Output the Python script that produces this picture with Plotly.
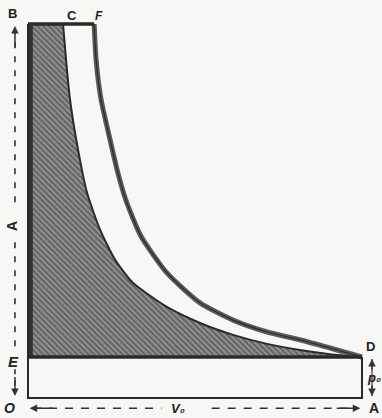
import plotly.graph_objects as go

# ---- data (V in units where OA = V0 = 10, p in units where OE = p0 = 1) ----
V0 = 10.0
p0 = 1.0
p_top = 9.12
V_C = 1.05
V_F = 1.98

inner_V = [1.05, 1.14, 1.26, 1.50, 1.77, 2.16, 2.61, 3.14, 4.16, 5.15, 6.14, 7.16, 8.14, 9.04, 10.0]
inner_p = [9.12, 8.24, 7.27, 6.05, 5.00, 4.10, 3.37, 2.81, 2.22, 1.83, 1.54, 1.32, 1.17, 1.07, 1.00]

outer_V = [1.98, 2.04, 2.19, 2.46, 2.67, 2.93, 3.38, 4.16, 5.15, 6.14, 7.16, 8.14, 9.04, 10.0]
outer_p = [9.12, 8.24, 7.27, 6.29, 5.56, 4.83, 3.95, 3.05, 2.32, 1.90, 1.61, 1.42, 1.22, 1.00]

labels = ["B", "C", "F", "A", "E", "D", "O", "A", "V₀", "p₀"]

fig = go.Figure()

# hatched region B-C-(inner curve)-D-E : base path then inner curve filled to it
fig.add_trace(go.Scatter(x=[0.0, 0.0, V0], y=[p_top, p0, p0], mode="lines",
                         line=dict(color="#2e2e2e", width=0), hoverinfo="skip"))
fig.add_trace(go.Scatter(
    x=inner_V, y=inner_p, mode="lines", fill="tonexty",
    fillcolor="#6e6e6e",
    fillpattern=dict(shape="\\", fgcolor="#2e2e2e", bgcolor="#939393", size=4, solidity=0.5),
    line=dict(color="#2a2a2a", width=2, shape="spline", smoothing=0.6), hoverinfo="skip"))

# outer curve (thick hatched-looking line)
fig.add_trace(go.Scatter(x=outer_V, y=outer_p, mode="lines",
                         line=dict(color="#5a5a5a", width=5, shape="spline", smoothing=0.6),
                         hoverinfo="skip"))
fig.add_trace(go.Scatter(x=outer_V, y=outer_p, mode="lines",
                         line=dict(color="#2a2a2a", width=1.2, shape="spline", smoothing=0.6),
                         hoverinfo="skip"))

# top line B-F
fig.add_trace(go.Scatter(x=[0, V_F], y=[p_top, p_top], mode="lines",
                         line=dict(color="#2a2a2a", width=3.5), hoverinfo="skip"))
# left thick edge of hatched area
fig.add_trace(go.Scatter(x=[0.07, 0.07], y=[p0, p_top], mode="lines",
                         line=dict(color="#333333", width=5), hoverinfo="skip"))
# E-D line
fig.add_trace(go.Scatter(x=[0, V0], y=[p0, p0], mode="lines",
                         line=dict(color="#2a2a2a", width=3.5), hoverinfo="skip"))
# rectangle O-A-D and left axis
fig.add_trace(go.Scatter(x=[0, 0, V0, V0], y=[p_top, 0, 0, p0], mode="lines",
                         line=dict(color="#2a2a2a", width=2), hoverinfo="skip"))

# dashed dimension lines
dash_x = -0.39
fig.add_trace(go.Scatter(x=[dash_x, dash_x], y=[p_top - 0.1, 4.6], mode="lines",
                         line=dict(color="#333333", width=1.6, dash="6px,8px"), hoverinfo="skip"))
fig.add_trace(go.Scatter(x=[dash_x, dash_x], y=[3.8, 1.25], mode="lines",
                         line=dict(color="#333333", width=1.6, dash="6px,8px"), hoverinfo="skip"))
fig.add_trace(go.Scatter(x=[dash_x, dash_x], y=[0.7, 0.1], mode="lines",
                         line=dict(color="#333333", width=1.6, dash="5px,6px"), hoverinfo="skip"))
dash_y = -0.25
fig.add_trace(go.Scatter(x=[0.15, 4.0], y=[dash_y, dash_y], mode="lines",
                         line=dict(color="#333333", width=1.6, dash="8px,8px"), hoverinfo="skip"))
fig.add_trace(go.Scatter(x=[5.5, V0 - 0.15], y=[dash_y, dash_y], mode="lines",
                         line=dict(color="#333333", width=1.6, dash="8px,8px"), hoverinfo="skip"))
dim_x = 10.3
fig.add_trace(go.Scatter(x=[dim_x, dim_x], y=[0.05, 0.95], mode="lines",
                         line=dict(color="#333333", width=1.2), hoverinfo="skip"))

ann = []
def arrow(x, y, ax, ay):
    ann.append(dict(x=x, y=y, ax=ax, ay=ay, xref="x", yref="y", axref="x", ayref="y",
                    showarrow=True, arrowhead=2, arrowsize=1, arrowwidth=1.5,
                    arrowcolor="#333333", text=""))
arrow(dash_x, p_top - 0.05, dash_x, p_top - 0.6)
arrow(dash_x, 0.05, dash_x, 0.55)
arrow(0.05, dash_y, 0.8, dash_y)
arrow(V0 - 0.05, dash_y, V0 - 0.8, dash_y)
arrow(dim_x, 0.95, dim_x, 0.65)
arrow(dim_x, 0.05, dim_x, 0.35)

def label(x, y, t, ang=0, size=14, italic=True):
    txt = f"<b><i>{t}</i></b>" if italic else f"<b>{t}</b>"
    ann.append(dict(x=x, y=y, xref="x", yref="y", text=txt, showarrow=False,
                    textangle=ang, font=dict(family="Liberation Sans", size=size, color="#222222")))

label(-0.45, p_top + 0.27, labels[0], size=13, italic=False)
label(1.33, p_top + 0.22, labels[1], size=13, italic=False)
label(2.12, p_top + 0.2, labels[2], size=12)
label(-0.5, 4.2, labels[3], ang=-90, size=14, italic=False)
label(-0.42, 0.9, labels[4], size=15)
label(10.25, 1.25, labels[5], size=13, italic=False)
label(-0.55, -0.25, labels[6], size=14)
label(10.35, -0.25, labels[7], size=14, italic=False)
label(4.5, -0.25, labels[8], size=13)
label(10.35, 0.5, labels[9], size=13)

fig.update_layout(
    width=382, height=418,
    margin=dict(l=0, r=0, t=0, b=0),
    paper_bgcolor="#f7f7f5", plot_bgcolor="#f7f7f5",
    showlegend=False,
    xaxis=dict(range=[-0.838, 10.599], visible=False, fixedrange=True),
    yaxis=dict(range=[-0.488, 9.707], visible=False, fixedrange=True),
    annotations=ann,
)
fig.write_html("out.html", config={"displayModeBar": False},
               post_script="document.body.style.margin='0px';document.body.style.overflow='hidden';")
